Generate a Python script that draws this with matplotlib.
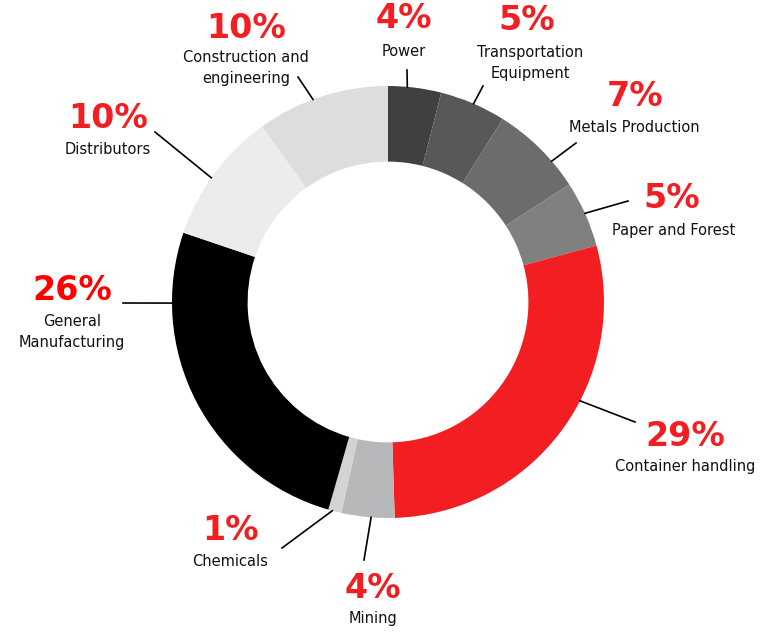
import numpy as np
import matplotlib.pyplot as plt

# data (clockwise from 12 o'clock)
sectors = ['Power', 'Transportation\nEquipment', 'Metals Production', 'Paper and Forest',
           'Container handling', 'Mining', 'Chemicals', 'General\nManufacturing',
           'Distributors', 'Construction and\nengineering']
shares = [4, 5, 7, 5, 29, 4, 1, 26, 10, 10]
colors = ['#404040', '#58585a', '#6c6c6e', '#808080', '#f21e22', '#b7b8ba',
          '#d2d3d5', '#000000', '#ececec', '#dddddd']

# layout (pixel coords, y from top)
W, H = 782, 634
cx, cy, R = 388, 302, 216
ring = 0.35
# where on each wedge the leader starts (0 = start edge, 1 = end edge)
lead_frac = [0.36, 0.51, 0.69, 0.49, 0.41, 0.44, 0.69, 0.795, 0.46, 0.43]
lead_end = [(407, 70), (483, 86), (576, 143), (628, 201), (635, 422),
            (364, 560), (282, 548), (123, 303), (155, 132), (298, 77)]
pct_pos = [(404, 19), (527, 21), (635, 96), (672, 199), (685, 436),
           (373, 588), (230, 531), (72, 291), (108, 118), (246, 28)]
name_pos = [(404, 51), (530, 63), (634, 127), (674, 231), (685, 466),
            (373, 619), (230, 562), (72, 332), (108, 150), (246, 68)]

red = '#f21e22'
pct_colors = [red] * len(shares)
pct_colors[7] = '#ff0000'

fig = plt.figure(figsize=(W / 100, H / 100), dpi=100)
ax = fig.add_axes([0, 0, 1, 1])

wedges, _ = ax.pie(shares, colors=colors, startangle=90, counterclock=False,
                   center=(cx, H - cy), radius=R,
                   wedgeprops=dict(width=R * ring, edgecolor='none'))

# pie() resets the limits, so set them afterwards
ax.set_xlim(0, W)
ax.set_ylim(0, H)
ax.set_aspect('equal')
ax.axis('off')

for i, w in enumerate(wedges):
    # counterclock=False -> theta2 is the start side
    ang = np.deg2rad(w.theta2 - lead_frac[i] * (w.theta2 - w.theta1))
    x0 = cx + R * np.cos(ang)
    y0 = (H - cy) + R * np.sin(ang)
    ex, ey = lead_end[i]
    ax.plot([x0, ex], [y0, H - ey], color='black', lw=1.2)
    px, py = pct_pos[i]
    ax.text(px, H - py, f'{shares[i]}%', color=pct_colors[i], fontsize=24,
            fontweight='bold', ha='center', va='center')
    nx, ny = name_pos[i]
    ax.text(nx, H - ny, sectors[i], color='#111111', fontsize=10.5,
            ha='center', va='center', linespacing=1.45)

plt.savefig('out.png', dpi=100)
